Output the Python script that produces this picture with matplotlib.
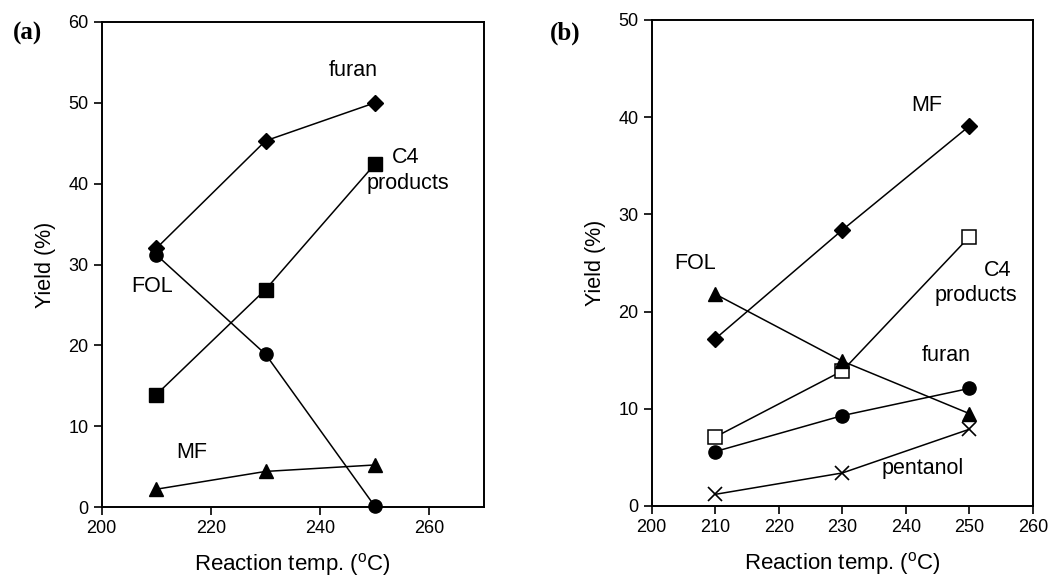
import matplotlib
matplotlib.use("Agg")
import matplotlib.pyplot as plt

plt.rcParams['font.family'] = ['Liberation Sans', 'DejaVu Sans']
plt.rcParams['mathtext.default'] = 'regular'

temps = [210, 230, 250]

# Panel (a)
a_furan = [32.0, 45.3, 50.0]
a_c4 = [13.9, 26.9, 42.4]
a_fol = [31.2, 18.9, 0.1]
a_mf = [2.2, 4.4, 5.2]

# Panel (b)
b_mf = [17.2, 28.4, 39.1]
b_c4 = [7.1, 13.9, 27.7]
b_fol = [21.8, 14.9, 9.5]
b_furan = [5.6, 9.3, 12.1]
b_pentanol = [1.2, 3.4, 7.9]

a_xticks = [200, 220, 240, 260]
a_yticks = [0, 10, 20, 30, 40, 50, 60]
b_xticks = [200, 210, 220, 230, 240, 250, 260]
b_yticks = [0, 10, 20, 30, 40, 50]

fig = plt.figure(figsize=(10.49, 5.78), dpi=100)
axa = fig.add_axes([101.7 / 1049, 71 / 578, 382.3 / 1049, 485 / 578])
axb = fig.add_axes([651.7 / 1049, 72 / 578, 381.3 / 1049, 486 / 578])

lk = dict(color='black', lw=1.1, mec='black', clip_on=False, zorder=3)

axa.plot(temps, a_furan, marker='D', ms=8.5, mfc='black', **lk)
axa.plot(temps, a_c4, marker='s', ms=10, mfc='black', **lk)
axa.plot(temps, a_fol, marker='o', ms=9.5, mfc='black', **lk)
axa.plot(temps, a_mf, marker='^', ms=10, mfc='black', **lk)

axb.plot(temps, b_mf, marker='D', ms=8, mfc='black', **lk)
axb.plot(temps, b_c4, marker='s', ms=10, mfc='white', mew=1.1, **lk)
axb.plot(temps, b_fol, marker='^', ms=10, mfc='black', **lk)
axb.plot(temps, b_furan, marker='o', ms=9.5, mfc='black', **lk)
axb.plot(temps, b_pentanol, marker='x', ms=10, mew=1.2, **lk)

for ax, xt, yt, xl, yl in [(axa, a_xticks, a_yticks, (200, 270), (0, 60)),
                           (axb, b_xticks, b_yticks, (200, 260), (0, 50))]:
    ax.set_xlim(*xl)
    ax.set_ylim(*yl)
    ax.set_xticks(xt)
    ax.set_yticks(yt)
    ax.tick_params(direction='out', length=6, width=1.2, labelsize=13, top=False, right=False)
    for s in ax.spines.values():
        s.set_linewidth(1.4)
    ax.set_xlabel('Reaction temp. ($^{o}$C)', fontsize=16, labelpad=10)
    ax.set_ylabel('Yield (%)', fontsize=15.5, labelpad=9)

fs = 15.5
axa.text(246, 54, 'furan', fontsize=fs, ha='center', va='center')
axa.text(255.6, 43.2, 'C4', fontsize=fs, ha='center', va='center')
axa.text(256, 40, 'products', fontsize=fs, ha='center', va='center')
axa.text(209.3, 27.3, 'FOL', fontsize=fs, ha='center', va='center')
axa.text(216.5, 6.7, 'MF', fontsize=fs, ha='center', va='center')

axb.text(243.3, 41.2, 'MF', fontsize=fs, ha='center', va='center')
axb.text(206.8, 24.9, 'FOL', fontsize=fs, ha='center', va='center')
axb.text(254.5, 24.2, 'C4', fontsize=fs, ha='center', va='center')
axb.text(251, 21.7, 'products', fontsize=fs, ha='center', va='center')
axb.text(246.3, 15.5, 'furan', fontsize=fs, ha='center', va='center')
axb.text(242.7, 3.9, 'pentanol', fontsize=fs, ha='center', va='center')

fig.text(27 / 1049, 1 - 33 / 578, '(a)', fontsize=18, fontweight='bold',
         family=['Liberation Serif', 'DejaVu Serif'], ha='center', va='center')
fig.text(565 / 1049, 1 - 33 / 578, '(b)', fontsize=18, fontweight='bold',
         family=['Liberation Serif', 'DejaVu Serif'], ha='center', va='center')

fig.savefig('out.png', dpi=100)
